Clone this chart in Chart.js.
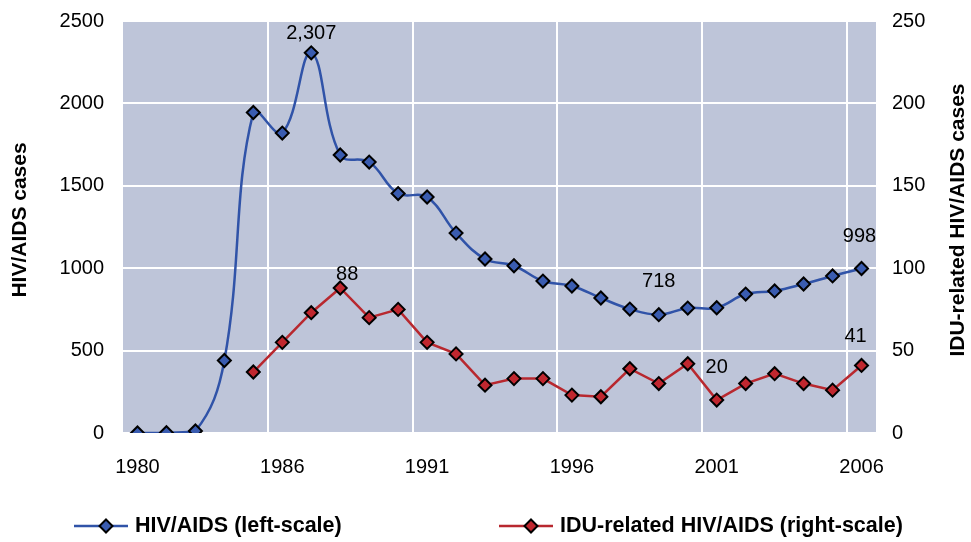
<!DOCTYPE html>
<html>
<head>
<meta charset="utf-8">
<script src="https://cdn.jsdelivr.net/npm/chart.js@4/dist/chart.umd.min.js"></script>
<style>
  html, body { margin: 0; padding: 0; background: #fff; }
  #wrap { width: 971px; height: 542px; }
</style>
</head>
<body>
<div id="wrap"><canvas id="hivChart" width="971" height="542"></canvas></div>
<script>
// categories as labelled on the original axis (every 5th shown)
const years = ['1980', '1982', '1983', '1984', '1985', '1986', '1987', '1988', '1989', '1990',
  '1991', '1992', '1993', '1994', '1995', '1996', '1997', '1998', '1999', '2000',
  '2001', '2002', '2003', '2004', '2005', '2006'];

const hivCases = [0, 2, 12, 440, 1945, 1820, 2307, 1687, 1644, 1453, 1432, 1213, 1056, 1015, 922,
  892, 819, 752, 718, 758, 760, 843, 862, 904, 953, 998];

const iduCases = [null, null, null, null, 37, 55, 73, 88, 70, 75, 55, 48, 29, 33, 33,
  23, 22, 39, 30, 42, 20, 30, 36, 30, 26, 41];

const leftTicks = [0, 500, 1000, 1500, 2000, 2500];
const rightTicks = [0, 50, 100, 150, 200, 250];

// which points carry a value label
const hivLabelIdx = [6, 18, 25];
const iduLabelIdx = [7, 20, 25];

const blue = '#3053a8';
const blueFill = '#3a5cb0';
const red = '#b8282f';
const redFill = '#c0272f';
const plotBg = '#bec5d9';
const FONT = '"Liberation Sans", Arial, sans-serif';

const plotBackground = {
  id: 'plotBackground',
  beforeDraw(chart) {
    const a = chart.chartArea;
    const ctx = chart.ctx;
    ctx.save();
    ctx.fillStyle = plotBg;
    ctx.fillRect(a.left, a.top, a.right - a.left, a.bottom - a.top);
    ctx.restore();
  }
};

const valueLabels = {
  id: 'valueLabels',
  afterDatasetsDraw(chart) {
    const ctx = chart.ctx;
    const shifts = {
      0: { 6: [0, -19], 18: [0, -33], 25: [-2, -32] },
      1: { 7: [7, -13], 20: [0, -33], 25: [-6, -29] }
    };
    const picks = [hivLabelIdx, iduLabelIdx];
    ctx.save();
    ctx.font = '20px ' + FONT;
    ctx.fillStyle = '#000';
    ctx.textAlign = 'center';
    ctx.textBaseline = 'middle';
    picks.forEach((idxs, d) => {
      const meta = chart.getDatasetMeta(d);
      const vals = chart.data.datasets[d].data;
      idxs.forEach(i => {
        const pt = meta.data[i];
        const s = shifts[d][i];
        ctx.fillText(vals[i].toLocaleString('en-US'), pt.x + s[0], pt.y + s[1]);
      });
    });
    ctx.restore();
  }
};

const titlesAndLegend = {
  id: 'titlesAndLegend',
  afterDraw(chart) {
    const ctx = chart.ctx;
    ctx.save();
    ctx.fillStyle = '#000';
    ctx.font = 'bold 21px ' + FONT;
    ctx.textAlign = 'center';
    ctx.textBaseline = 'middle';
    [[20, 'HIV/AIDS cases'], [958, 'IDU-related HIV/AIDS cases']].forEach(([x, t]) => {
      ctx.save();
      ctx.translate(x, 220);
      ctx.rotate(-Math.PI / 2);
      ctx.fillText(t, 0, 0);
      ctx.restore();
    });

    // legend: line with diamond, then label
    const items = [[74, 0], [499, 1]];
    const y = 526;
    ctx.font = 'bold 21.5px ' + FONT;
    ctx.textAlign = 'left';
    items.forEach(([x0, d]) => {
      const ds = chart.data.datasets[d];
      ctx.strokeStyle = ds.borderColor;
      ctx.lineWidth = 2.5;
      ctx.beginPath();
      ctx.moveTo(x0, y);
      ctx.lineTo(x0 + 54, y);
      ctx.stroke();
      const cx = x0 + 32, r = 6.5;
      ctx.beginPath();
      ctx.moveTo(cx, y - r);
      ctx.lineTo(cx + r, y);
      ctx.lineTo(cx, y + r);
      ctx.lineTo(cx - r, y);
      ctx.closePath();
      ctx.fillStyle = ds.pointBackgroundColor;
      ctx.fill();
      ctx.strokeStyle = '#000';
      ctx.lineWidth = 2;
      ctx.stroke();
      ctx.fillStyle = '#000';
      ctx.fillText(ds.label, x0 + 61, y);
    });
    ctx.restore();
  }
};

const tickFont = { family: FONT, size: 20 };

new Chart(document.getElementById('hivChart').getContext('2d'), {
  type: 'line',
  data: {
    labels: years,
    datasets: [{
      label: 'HIV/AIDS (left-scale)',
      data: hivCases,
      yAxisID: 'y',
      borderColor: blue,
      borderWidth: 2.5,
      tension: 0.4,
      pointStyle: 'rectRot',
      pointRadius: 6.5,
      pointBorderWidth: 2,
      pointBorderColor: '#000',
      pointBackgroundColor: blueFill,
      fill: false
    }, {
      label: 'IDU-related HIV/AIDS (right-scale)',
      data: iduCases,
      yAxisID: 'y1',
      borderColor: red,
      borderWidth: 2.5,
      tension: 0,
      pointStyle: 'rectRot',
      pointRadius: 6.5,
      pointBorderWidth: 2,
      pointBorderColor: '#000',
      pointBackgroundColor: redFill,
      fill: false
    }]
  },
  options: {
    responsive: false,
    animation: false,
    layout: { padding: { top: 21, left: 0, right: 0, bottom: 0 } },
    plugins: {
      legend: { display: false },
      tooltip: { enabled: false }
    },
    scales: {
      x: {
        type: 'category',
        offset: true,
        afterFit: s => { s.height = 109; s.paddingLeft = 0; s.paddingRight = 0; },
        border: { display: false },
        grid: {
          offset: true,
          drawTicks: false,
          lineWidth: 2,
          color: c => (c.index && c.index % 5 === 0) ? '#ffffff' : 'rgba(0,0,0,0)'
        },
        ticks: {
          autoSkip: false,
          maxRotation: 0,
          padding: 22,
          color: '#000',
          font: tickFont,
          callback: (v, i) => (i % 5 === 0 ? years[i] : '')
        }
      },
      y: {
        position: 'left',
        min: leftTicks[0],
        max: leftTicks[leftTicks.length - 1],
        afterFit: s => { s.width = 123; s.paddingTop = 0; s.paddingBottom = 0; },
        afterBuildTicks: s => { s.ticks = leftTicks.map(v => ({ value: v })); },
        border: { display: false },
        grid: { color: '#ffffff', lineWidth: 2, drawTicks: false },
        ticks: {
          padding: 19,
          color: '#000',
          font: tickFont,
          callback: v => String(v)
        }
      },
      y1: {
        position: 'right',
        min: rightTicks[0],
        max: rightTicks[rightTicks.length - 1],
        afterFit: s => { s.width = 95; s.paddingTop = 0; s.paddingBottom = 0; },
        afterBuildTicks: s => { s.ticks = rightTicks.map(v => ({ value: v })); },
        border: { display: false },
        grid: { display: false, drawTicks: false },
        ticks: {
          padding: 16,
          color: '#000',
          font: tickFont,
          callback: v => String(v)
        }
      }
    }
  },
  plugins: [plotBackground, valueLabels, titlesAndLegend]
});
</script>
</body>
</html>
